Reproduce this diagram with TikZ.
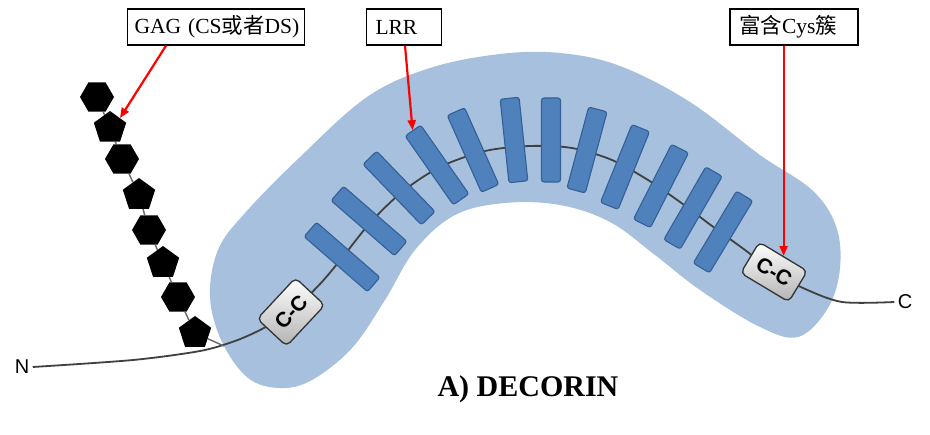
\documentclass[tikz,border=0pt]{standalone}
\usepackage{fontspec}
\setmainfont{Liberation Serif}
\newfontfamily\sansf{Liberation Sans}
\newfontfamily\cjk{Noto Sans CJK SC}
\usetikzlibrary{shapes.geometric,arrows.meta}
\definecolor{blob}{RGB}{167,192,222}
\definecolor{lrrblue}{RGB}{79,129,189}
\definecolor{lrredge}{RGB}{52,96,150}
\definecolor{bbgray}{RGB}{64,64,64}

\begin{document}
\begin{tikzpicture}[x=1pt, y=-1pt,
  lbl/.style={draw, line width=1.4pt, fill=white, minimum height=36pt, inner xsep=9pt, align=left, font=\fontsize{21.5}{23}\selectfont},
  lrr/.style={draw=lrredge, fill=lrrblue, line width=1.1pt, rounded corners=2.5pt, minimum width=84pt, minimum height=19pt, inner sep=0pt},
  cc/.style={draw=black!80, line width=1.3pt, rounded corners=5pt, top color=white, bottom color=black!30, minimum width=56pt, minimum height=36pt, inner sep=0pt, font=\sansf\bfseries\fontsize{21}{21}\selectfont},
  sugar/.style={regular polygon, regular polygon sides=#1, fill=black, minimum size=34pt, inner sep=0pt},
  link/.style={bbgray!80, line width=1.4pt},
  redarrow/.style={red, line width=2.2pt, -{Triangle[length=10pt,width=8pt]}},
  backbone/.style={bbgray, line width=1.8pt}]

\useasboundingbox (0,0) rectangle (930,435);
\fill[white] (0,0) rectangle (930,435);

\fill[blob] plot[smooth cycle, tension=0.6] coordinates {(210,297) (218,250) (245,213) (300,157) (367,97) (430,68) (500,54) (560,53) (620,66) (690,102) (760,155) (812,190) (836,226) (840,268) (828,308) (798,337) (758,326) (700,290) (655,255) (610,222) (560,205) (505,203) (455,215) (415,250) (385,300) (352,348) (312,380) (280,388) (248,378) (222,342)};

\node[font=\sansf\fontsize{20}{20}\selectfont] (nend) at (22,367) {N};
\node[font=\sansf\fontsize{20}{20}\selectfont] (cend) at (905,302) {C};

\draw[backbone] plot[smooth] coordinates {(nend.east) (133,360) (200,351) (235,341) (262,329) (291,312) (320,284) (342,258) (370,223) (402,192) (440,167) (485,151) (530,146) (572,148) (612,160) (648,180) (680,202) (712,226) (745,250) (774,272) (803,288) (842,302) (cend.west)};

\foreach \x/\y/\a [count=\i] in {342/257/-41, 369/221/-41, 399/188/-46, 437/165/-55, 473/150/-66, 514/140/-84, 551/140/-90, 587/150/75, 625/167/68, 661/186/63, 693/208/60, 723/232/59}
  \node[lrr, rotate=\a] (lrr\i) at (\x,\y) {};

\node[cc, rotate=47, minimum height=40pt] (cc1) at (291,312) {C-C};
\node[cc, rotate=-31] (cc2) at (774,272) {C-C};

\foreach \x/\y/\s [count=\i] in {97/97/6, 110/128/5, 122/159/6, 139/195/5, 149/230/6, 163/263/5, 178/297/6, 195/333/5}
  \node[sugar=\s] (g\i) at (\x,\y) {};
\foreach \i [count=\j from 2] in {1,...,7}
  \draw[link] (g\i) -- (g\j);
\coordinate (root) at (224,346);
\draw[link] (g8) -- (root);

\node[lbl, inner xsep=7pt, text width=163pt] (gag) at (216,27) {\mbox{GAG (CS{\cjk 或者}DS)}};
\node[lbl, text width=57pt] (lrrlbl) at (404,27) {LRR};
\node[lbl, text width=110pt] (cys) at (794,27) {{\cjk 富含}Cys{\cjk 簇}};

\draw[redarrow] ([xshift=-50pt]gag.south) -- (g2.north east);
\draw[redarrow] ([xshift=1pt]lrrlbl.south) -- (lrr4.west);
\draw[redarrow] (cc2.north |- cys.south) -- (cc2.north);

\node[font=\bfseries\fontsize{30}{30}\selectfont] (title) at (528,389) {A) DECORIN};

\end{tikzpicture}
\end{document}
